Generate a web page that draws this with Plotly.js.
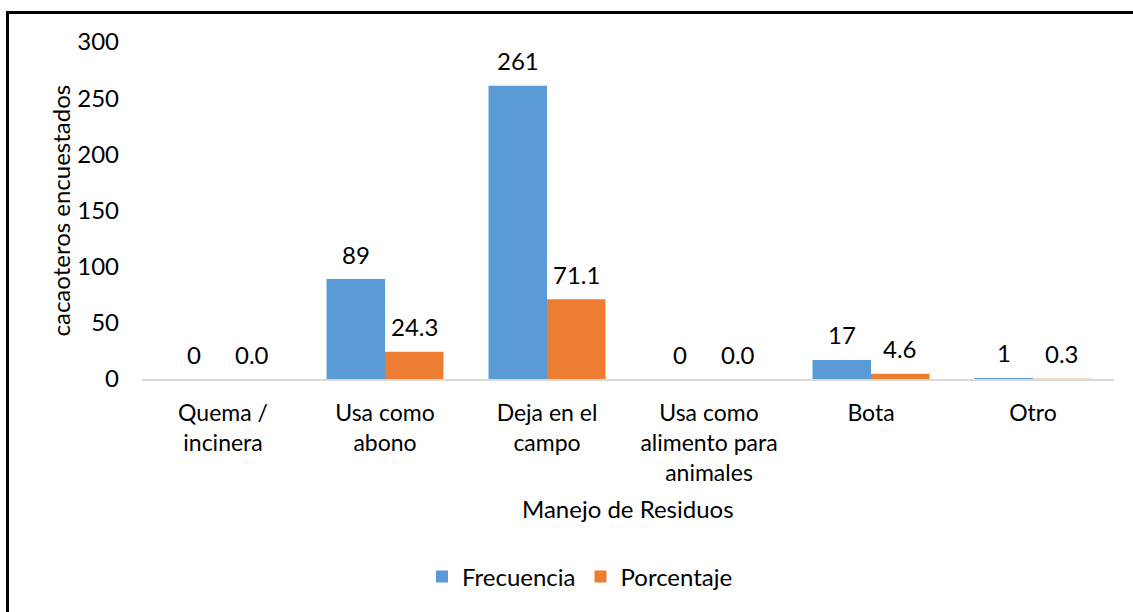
<!DOCTYPE html>
<html>
<head>
<meta charset="utf-8">
<script src="https://cdn.plot.ly/plotly-3.0.1.min.js"></script>
<style>
  html, body { margin: 0; padding: 0; background: #fff; }
  #wrap { position: relative; width: 1133px; height: 612px; overflow: hidden; }
  #chart { width: 1133px; height: 612px; }
  #frame { position: absolute; left: 6px; top: 11px; width: 1200px; height: 700px;
           border-top: 3px solid #000; border-left: 3px solid #000; pointer-events: none; }
</style>
</head>
<body>
<div id="wrap">
  <div id="chart"></div>
  <div id="frame"></div>
</div>
<script>
// ---- data ----
const categories = ["Quema /<br>incinera", "Usa como<br>abono", "Deja en el<br>campo",
                    "Usa como<br>alimento para<br>animales", "Bota", "Otro"];
const frecuencia = [0, 89, 261, 0, 17, 1];
const porcentaje = [0.0, 24.3, 71.1, 0.0, 4.6, 0.3];
const seriesNames = ["Frecuencia", "Porcentaje"];
const yTicks = [0, 50, 100, 150, 200, 250, 300];

const FONT = "Lato, 'Open Sans', sans-serif";
const FS = 24;

const traces = [
  { type: "bar", name: seriesNames[0], x: categories, y: frecuencia,
    marker: { color: "#5B9BD5", line: { width: 0 } }, hoverinfo: "none" },
  { type: "bar", name: seriesNames[1], x: categories, y: porcentaje,
    marker: { color: "#ED7D31", line: { width: 0 } }, hoverinfo: "none" }
];

const annotations = [];
categories.forEach((c, i) => {
  annotations.push({ x: c, y: frecuencia[i], xref: "x", yref: "y", text: String(frecuencia[i]),
    showarrow: false, xshift: -29, yshift: 25, yanchor: "middle", xanchor: "center",
    font: { family: FONT, size: FS, color: "#000" } });
  annotations.push({ x: c, y: porcentaje[i], xref: "x", yref: "y", text: porcentaje[i].toFixed(1),
    showarrow: false, xshift: 29, yshift: 25, yanchor: "middle", xanchor: "center",
    font: { family: FONT, size: FS, color: "#000" } });
});
// axis titles
annotations.push({ x: 0.5, y: 0, xref: "paper", yref: "paper", text: "Manejo de Residuos",
  showarrow: false, yshift: -129, yanchor: "middle", xanchor: "center",
  font: { family: FONT, size: FS, color: "#000" } });
annotations.push({ x: 0, y: 0.5, xref: "paper", yref: "paper", text: "cacaoteros encuestados",
  showarrow: false, xshift: -82, textangle: -90, yanchor: "middle", xanchor: "center",
  font: { family: FONT, size: FS, color: "#000" } });

const layout = {
  width: 1133, height: 612,
  margin: { l: 142, r: 19, t: 42, b: 231, pad: 0 },
  paper_bgcolor: "#fff", plot_bgcolor: "#fff",
  font: { family: FONT, size: FS, color: "#000" },
  barmode: "group", bargap: 0.278, bargroupgap: 0,
  showlegend: true,
  legend: { orientation: "h", x: 0.4506, xanchor: "center", y: -0.587, yanchor: "middle",
            font: { family: FONT, size: FS, color: "#000" }, traceorder: "normal" },
  xaxis: { type: "category", showline: true, linecolor: "#D9D9D9", linewidth: 1.5,
           showgrid: false, zeroline: false, ticks: "", ticklabelstandoff: 13,
           tickfont: { family: FONT, size: 23, color: "#000" }, automargin: false },
  yaxis: { range: [0, 300], tickvals: yTicks, ticktext: yTicks.map(String),
           showline: false, showgrid: false, zeroline: false, ticks: "",
           ticklabelstandoff: 22, tickfont: { family: FONT, size: FS, color: "#000" },
           automargin: false },
  annotations: annotations
};

Plotly.newPlot("chart", traces, layout, { staticPlot: true, displayModeBar: false });
</script>
</body>
</html>
